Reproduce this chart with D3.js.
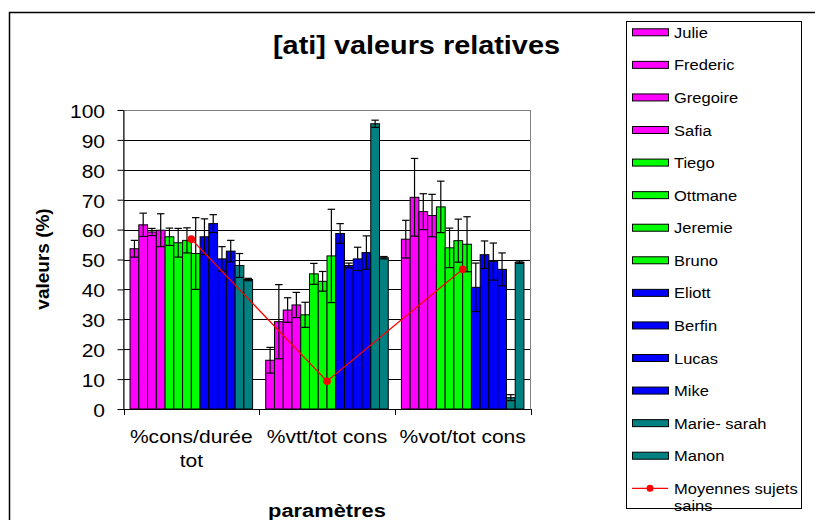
<!DOCTYPE html>
<html><head><meta charset="utf-8">
<script src="https://cdn.jsdelivr.net/npm/d3@7"></script>
<style>body{margin:0;background:#fff} text{font-family:"Liberation Sans",Arial,sans-serif;fill:#000}</style>
</head><body><svg id="c" width="815" height="520"></svg>
<script>
// ---------- data ----------
const categories = ["%cons/durée tot", "%vtt/tot cons", "%vot/tot cons"];
const categoryLines = [["%cons/durée", "tot"], ["%vtt/tot cons"], ["%vot/tot cons"]];
const seriesNames = ["Julie","Frederic","Gregoire","Safia","Tiego","Ottmane","Jeremie","Bruno",
                     "Eliott","Berfin","Lucas","Mike","Marie- sarah","Manon"];
// values per category (one entry per series, same order as seriesNames)
const consDuree    = [53.6, 61.6, 59.2, 59.8, 57.6, 55.6, 56.4, 52.0, 57.6, 62.0, 50.2, 52.8, 48.0, 43.3];
const vttTot       = [16.3, 29.2, 33.1, 34.8, 31.5, 45.2, 42.7, 51.2, 58.7, 48.0, 50.2, 52.3, 95.4, 50.6];
const votTot       = [56.8, 70.8, 66.0, 64.7, 67.6, 53.9, 56.3, 55.1, 40.7, 51.6, 49.3, 46.7, 3.8, 49.1];
// error (±) per category
const consDureeErr = [2.8, 3.9, 1.2, 5.5, 2.9, 4.8, 4.2, 12.0, 6.0, 3.0, 4.1, 3.6, 4.0, 0.4];
const vttTotErr    = [4.3, 12.4, 4.1, 4.2, 4.2, 3.5, 3.3, 15.6, 3.3, 0.8, 3.9, 5.6, 1.2, 0.4];
const votTotErr    = [6.3, 13.0, 6.0, 7.1, 8.6, 6.6, 7.2, 9.2, 8.1, 4.6, 6.2, 5.5, 1.0, 0.4];
// mean of healthy subjects
const meanName = "Moyennes sujets sains";
const moyennes = [56.8, 9.3, 46.7];
const yTicks = [0,10,20,30,40,50,60,70,80,90,100];

// ---------- styles ----------
const seriesColors = ["#FF00FF","#FF00FF","#FF00FF","#FF00FF","#00FF00","#00FF00","#00FF00","#00FF00",
                      "#0000FF","#0000FF","#0000FF","#0000FF","#008080","#008080"];

(function () {
const catValues = [consDuree, vttTot, votTot];
const catErrors = [consDureeErr, vttTotErr, votTotErr];

const svg = d3.select("#c");
function stext(g, x, yy, str, size, sx, anchor, weight) {
  return g.append("text").attr("transform", `translate(${x},${yy}) scale(${sx},1)`)
    .attr("text-anchor", anchor).attr("font-size", size).attr("font-weight", weight || "normal").text(str);
}

// outer frame
svg.append("rect").attr("x", 9.5).attr("y", 12.5).attr("width", 900).attr("height", 600)
  .attr("fill", "#fff").attr("stroke", "#000").attr("stroke-width", 1.5);

const pL = 123.5, pR = 530.5, pT = 110, pB = 409;
const x0 = d3.scaleBand().domain(categories).range([pL, pR]).padding(0);
const x1 = d3.scaleBand().domain(seriesNames).range([0, x0.bandwidth()]).paddingInner(0).paddingOuter(0.75);
const y = d3.scaleLinear().domain([0, 100]).range([pB, pT]);

// gridlines
svg.append("g").selectAll("line").data(yTicks.filter(t => t > 0 && t < 100)).join("line")
  .attr("x1", pL).attr("x2", pR)
  .attr("y1", d => Math.round(y(d)) + 0.5).attr("y2", d => Math.round(y(d)) + 0.5)
  .attr("stroke", "#000").attr("stroke-width", 1);
// plot border
svg.append("rect").attr("x", pL).attr("y", pT + 0.5).attr("width", pR - pL).attr("height", pB - pT)
  .attr("fill", "none").attr("stroke", "#808080");

// bars
const barData = [];
categories.forEach((c, ci) => seriesNames.forEach((s, si) => barData.push({
  c, s, si, v: catValues[ci][si], e: catErrors[ci][si]})));
svg.append("g").selectAll("rect").data(barData).join("rect")
  .attr("x", d => x0(d.c) + x1(d.s)).attr("width", x1.bandwidth())
  .attr("y", d => y(d.v)).attr("height", d => y(0) - y(d.v))
  .attr("fill", d => seriesColors[d.si]).attr("stroke", "#000").attr("stroke-width", 1);

// error bars
const eb = svg.append("g").attr("stroke", "#000").attr("stroke-width", 1.2);
const cw = x1.bandwidth() * 0.85;
barData.forEach(d => {
  const cx = x0(d.c) + x1(d.s) + x1.bandwidth() / 2;
  const y1 = y(d.v + d.e), y2 = y(Math.max(0, d.v - d.e));
  eb.append("line").attr("x1", cx).attr("x2", cx).attr("y1", y1).attr("y2", y2);
  eb.append("line").attr("x1", cx - cw / 2).attr("x2", cx + cw / 2).attr("y1", y1).attr("y2", y1);
  eb.append("line").attr("x1", cx - cw / 2).attr("x2", cx + cw / 2).attr("y1", y2).attr("y2", y2);
});

// mean line
const line = d3.line().x((d, i) => x0(categories[i]) + x0.bandwidth() / 2).y(d => y(d));
svg.append("path").datum(moyennes).attr("d", line).attr("fill", "none").attr("stroke", "#FF0000").attr("stroke-width", 1.3);
svg.append("g").selectAll("circle").data(moyennes).join("circle")
  .attr("cx", (d, i) => x0(categories[i]) + x0.bandwidth() / 2).attr("cy", d => y(d))
  .attr("r", 3.8).attr("fill", "#FF0000");

// y axis
const ya = svg.append("g").attr("transform", `translate(${pL},0)`)
  .call(d3.axisLeft(y).tickValues(yTicks).tickSize(6).tickSizeOuter(0));
ya.select(".domain").attr("stroke", "#000");
ya.selectAll(".tick line").attr("stroke", "#000");
ya.selectAll(".tick text").attr("x", null).attr("dy", "0.42em")
  .attr("transform", "translate(-18.5,0) scale(1.2,1)")
  .attr("font-size", 17.5).attr("font-family", "Liberation Sans, Arial, sans-serif").attr("fill", "#000");

// x axis
const xg = svg.append("g");
xg.append("line").attr("x1", pL).attr("x2", pR).attr("y1", pB + 0.5).attr("y2", pB + 0.5).attr("stroke", "#000");
const bounds = categories.map(c => x0(c)).concat([x0(categories[categories.length - 1]) + x0.bandwidth()]);
xg.selectAll("line.t").data(bounds).join("line").attr("class", "t")
  .attr("x1", d => Math.round(d) + 0.5).attr("x2", d => Math.round(d) + 0.5)
  .attr("y1", pB).attr("y2", pB + 6).attr("stroke", "#000");
categories.forEach((c, i) => {
  categoryLines[i].forEach((ln, j) => {
    stext(xg, x0(c) + x0.bandwidth() / 2, 443 + j * 24, ln, 18, 1.17, "middle");
  });
});

// titles
stext(svg, 416.5, 54, "[ati] valeurs relatives", 26, 1.11, "middle", "bold");
stext(svg, 327, 517, "paramètres", 19, 1.15, "middle", "bold");
svg.append("text").attr("transform", "translate(49,259) rotate(-90)").attr("text-anchor", "middle")
  .attr("font-size", 19).attr("font-weight", "bold").text("valeurs (%)");

// legend
const lg = svg.append("g");
lg.append("rect").attr("x", 626.5).attr("y", 21.5).attr("width", 175).attr("height", 487)
  .attr("fill", "#fff").attr("stroke", "#000");
const rowY = i => 32.3 + i * 32.57;
seriesNames.forEach((s, i) => {
  lg.append("rect").attr("x", 632.5).attr("y", rowY(i) - 3.5).attr("width", 36).attr("height", 7)
    .attr("fill", seriesColors[i]).attr("stroke", "#000");
  stext(lg, 674, rowY(i) + 5.5, s, 15, 1.1, "start");
});
const mi = seriesNames.length;
lg.append("line").attr("x1", 632).attr("x2", 668).attr("y1", rowY(mi)).attr("y2", rowY(mi))
  .attr("stroke", "#FF0000").attr("stroke-width", 1.3);
lg.append("circle").attr("cx", 650).attr("cy", rowY(mi)).attr("r", 3.5).attr("fill", "#FF0000");
stext(lg, 674, rowY(mi) + 5.5, "Moyennes sujets", 15, 1.1, "start");
stext(lg, 674, rowY(mi) + 22.5, "sains", 15, 1.1, "start");
})();
</script>
</body></html>
